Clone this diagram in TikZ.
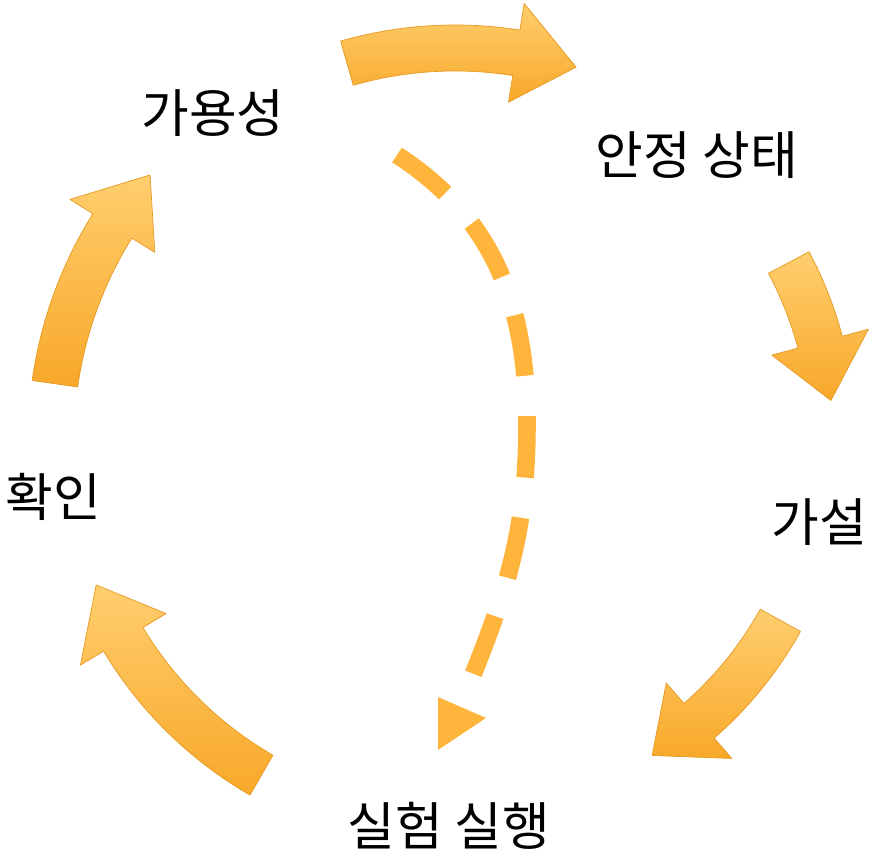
\documentclass[tikz,border=0pt]{standalone}
\usepackage{fontspec}
\setmainfont{Noto Sans CJK KR}
\usepackage{tikz}
\usetikzlibrary{
    arrows.meta,
    positioning
}

\definecolor{arrowlight}{HTML}{FFCE6E}
\definecolor{arrowdark}{HTML}{F8A82A}
\definecolor{arrowedge}{HTML}{E69A22}
\definecolor{dashorange}{HTML}{FFB43C}

\begin{document}
\begin{tikzpicture}[
x=0.02cm, y=0.02cm,
label/.style={
font=\fontsize{29.5}{35}\selectfont,
inner sep=0pt
},
cyclearrow/.style={
top color=arrowlight,
bottom color=arrowdark,
draw=arrowedge,
line width=0.4pt,
line join=round
},
shortcut/.style={
draw=dashorange,
line width=10pt,
dash pattern=on 35pt off 23pt
}
]
\useasboundingbox (0,0) rectangle (873,854);

% stage labels
\node[label] (avail) at (213,741) {가용성};
\node[label] (steady) at (697,699) {안정 상태};
\node[label] (hypo) at (819,332) {가설};
\node[label] (exper) at (449,28) {실험 실행};
\node[label] (verify) at (53,357) {확인};

% curved block arrows round the cycle
\begin{scope}[shift={(455,414)}]
\foreach \a/\b/\r in {106/72/392, 28/6/378, -29/-58/372, -120/-158/387, 172/139/404}
{
\path[cyclearrow]
({\a}:{\r+23}) arc[start angle=\a, end angle=\b+9, radius=\r+23]
-- ({\b+9}:{\r+50}) -- ({\b}:{\r}) -- ({\b+9}:{\r-50})
-- ({\b+9}:{\r-23}) arc[start angle=\b+9, end angle=\a, radius=\r-23]
-- cycle;
}
\end{scope}

% dashed shortcut
\coordinate (cutend) at (470,172);
\draw[shortcut] (397,699) to[out=-33,in=90] (527,430) to[out=-90,in=68] (cutend);
\fill[dashorange] (438,157) -- (438,104) -- (486,136) -- cycle;

\end{tikzpicture}
\end{document}
